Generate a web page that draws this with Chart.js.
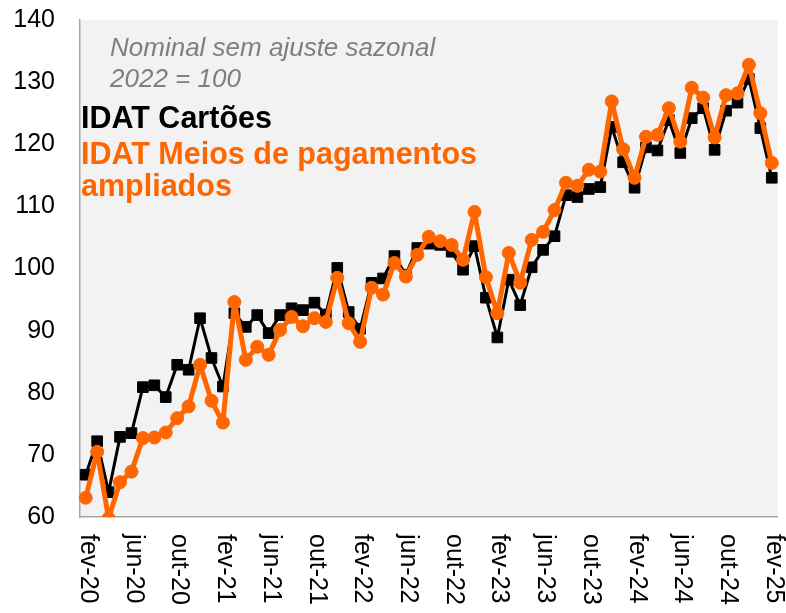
<!DOCTYPE html>
<html>
<head>
<meta charset="utf-8">
<script src="https://cdn.jsdelivr.net/npm/chart.js@4/dist/chart.umd.min.js"></script>
<style>
  html, body { margin: 0; padding: 0; background: #fff; }
  #wrap { width: 786px; height: 613px; }
</style>
</head>
<body>
<div id="wrap"><canvas id="idat"></canvas></div>
<script>
const months = [
  'fev-20','mar-20','abr-20','mai-20','jun-20','jul-20','ago-20','set-20','out-20','nov-20','dez-20',
  'jan-21','fev-21','mar-21','abr-21','mai-21','jun-21','jul-21','ago-21','set-21','out-21','nov-21','dez-21',
  'jan-22','fev-22','mar-22','abr-22','mai-22','jun-22','jul-22','ago-22','set-22','out-22','nov-22','dez-22',
  'jan-23','fev-23','mar-23','abr-23','mai-23','jun-23','jul-23','ago-23','set-23','out-23','nov-23','dez-23',
  'jan-24','fev-24','mar-24','abr-24','mai-24','jun-24','jul-24','ago-24','set-24','out-24','nov-24','dez-24',
  'jan-25','fev-25'
];

const cartoes = [
  66.8, 72.2, 64.0, 72.9, 73.5, 80.9, 81.2, 79.3, 84.5, 83.7, 92.0,
  85.6, 81.0, 92.8, 90.6, 92.5, 89.6, 92.5, 93.6, 93.3, 94.5, 92.6, 100.1,
  93.0, 90.3, 97.7, 98.4, 102.0, 99.0, 103.3, 104.0, 103.8, 102.7, 99.8, 103.6,
  95.3, 88.9, 98.2, 94.1, 100.2, 103.0, 105.2, 111.8, 111.5, 112.8, 113.1, 122.8,
  117.1, 113.0, 119.5, 119.0, 123.9, 118.6, 124.2, 125.8, 119.1, 125.4, 126.7, 130.5,
  122.6, 114.6
];

const ampliados = [
  63.1, 70.5, 59.8, 65.6, 67.3, 72.7, 72.8, 73.6, 75.9, 77.8, 84.5,
  78.7, 75.2, 94.6, 85.3, 87.4, 86.1, 90.1, 92.2, 90.7, 92.0, 91.4, 98.5,
  91.2, 88.2, 96.9, 95.8, 100.9, 98.7, 102.2, 105.1, 104.4, 103.8, 101.4, 109.1,
  98.6, 92.8, 102.5, 97.7, 104.6, 105.9, 109.4, 113.8, 113.3, 115.9, 115.6, 126.9,
  119.2, 114.6, 121.2, 121.5, 125.8, 120.4, 129.1, 127.5, 121.1, 127.9, 128.2, 132.8,
  125.0, 117.0
];

const yTicks = [60, 70, 80, 90, 100, 110, 120, 130, 140];
const ORANGE = '#ff6600';

Chart.defaults.font.family = 'Arial, "Liberation Sans", sans-serif';
Chart.defaults.color = '#000';

// grey plot background
const plotBg = {
  id: 'plotBg',
  beforeDraw(chart) {
    const { ctx, chartArea: a } = chart;
    ctx.save();
    ctx.fillStyle = '#f2f2f2';
    ctx.fillRect(a.left, a.top, a.right - a.left, a.bottom - a.top);
    ctx.restore();
  }
};

// x labels read top to bottom, every 4th month
const monthLabels = {
  id: 'monthLabels',
  afterDraw(chart) {
    const { ctx } = chart;
    const x = chart.scales.x;
    ctx.save();
    ctx.font = '25px Arial, "Liberation Sans", sans-serif';
    ctx.fillStyle = '#000';
    ctx.textAlign = 'left';
    ctx.textBaseline = 'middle';
    months.forEach((m, i) => {
      if (i % 4 !== 0) return;
      const px = x.getPixelForValue(i);
      ctx.save();
      ctx.translate(px + 2, 534);
      ctx.rotate(Math.PI / 2);
      ctx.fillText(m, 0, 0);
      ctx.restore();
    });
    ctx.restore();
  }
};

// notes + series names in the top-left corner
const notes = {
  id: 'notes',
  afterDraw(chart) {
    const { ctx } = chart;
    ctx.save();
    ctx.textAlign = 'left';
    ctx.textBaseline = 'alphabetic';
    ctx.fillStyle = '#7f7f7f';
    ctx.font = 'italic 26px Arial, "Liberation Sans", sans-serif';
    ctx.fillText('Nominal sem ajuste sazonal', 110, 56);
    ctx.fillText('2022 = 100', 110, 87);
    ctx.font = 'bold 30.5px Arial, "Liberation Sans", sans-serif';
    ctx.fillStyle = '#000';
    ctx.fillText('IDAT Cartões', 81, 128);
    ctx.fillStyle = ORANGE;
    ctx.fillText('IDAT Meios de pagamentos', 81, 164);
    ctx.fillText('ampliados', 81, 196);
    ctx.restore();
  }
};

new Chart(document.getElementById('idat'), {
  type: 'line',
  data: {
    labels: months,
    datasets: [
      {
        label: 'IDAT Meios de pagamentos ampliados',
        data: ampliados,
        borderColor: ORANGE,
        backgroundColor: ORANGE,
        borderWidth: 5,
        borderJoinStyle: 'round',
        pointStyle: 'circle',
        pointRadius: 6.5,
        pointBorderWidth: 1,
        tension: 0,
        order: 1
      },
      {
        label: 'IDAT Cartões',
        data: cartoes,
        borderColor: '#000',
        backgroundColor: '#000',
        borderWidth: 3,
        borderJoinStyle: 'round',
        pointStyle: 'rect',
        pointRadius: 7.5,
        pointBorderWidth: 1,
        tension: 0,
        order: 2
      }
    ]
  },
  options: {
    responsive: true,
    maintainAspectRatio: false,
    animation: false,
    layout: { padding: { top: 20, right: 7, left: 0, bottom: 0 } },
    plugins: {
      legend: { display: false },
      tooltip: { enabled: false }
    },
    scales: {
      x: {
        offset: true,
        grid: { display: false },
        border: { display: true, color: '#a6a6a6', width: 1.5 },
        ticks: { display: false },
        afterFit: (s) => { s.height = 96; }
      },
      y: {
        min: 60,
        max: 140,
        afterBuildTicks: (s) => { s.ticks = yTicks.map(v => ({ value: v })); },
        grid: { display: false },
        border: { display: true, color: '#a6a6a6', width: 1.5 },
        ticks: { font: { size: 25 }, color: '#000', padding: 17 },
        afterFit: (s) => {
          s.width = 80;
          s.paddingTop = 0;
          s.paddingBottom = 0;
        }
      }
    }
  },
  plugins: [plotBg, monthLabels, notes]
});
</script>
</body>
</html>
